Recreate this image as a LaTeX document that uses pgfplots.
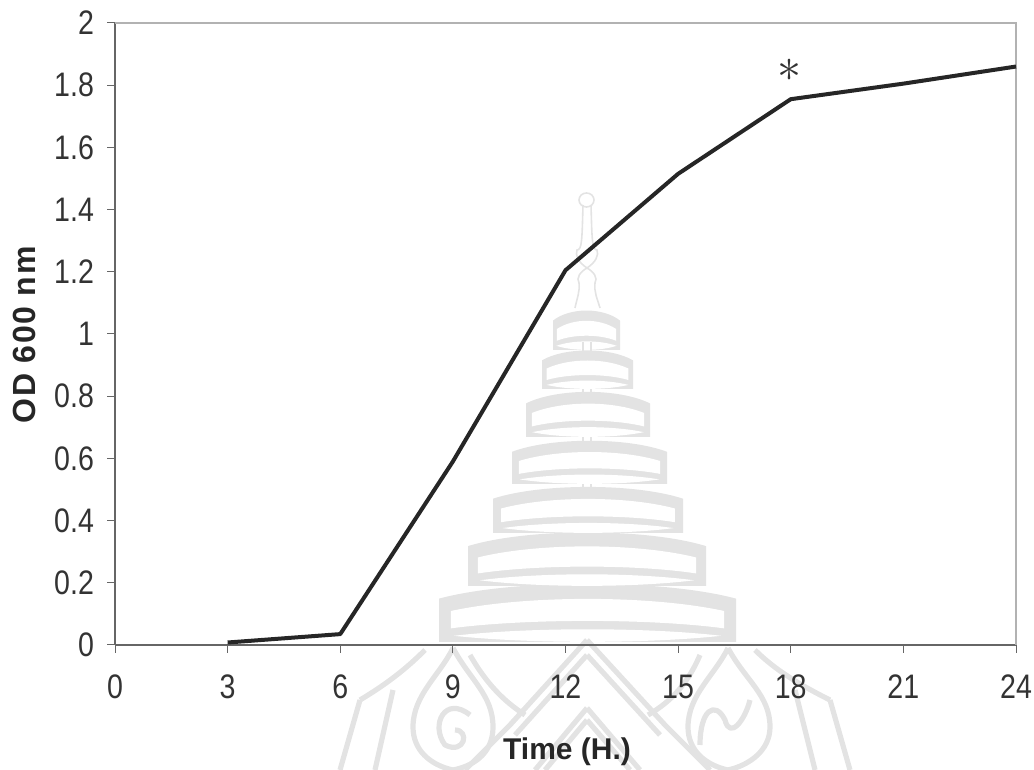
\documentclass[border=0pt]{standalone}
\usepackage{pgfplots}
\pgfplotsset{compat=1.18}
\usepackage{fontspec}
\setmainfont{Liberation Sans}
\newfontfamily\tickfont[FakeStretch=0.84]{Liberation Sans}
\newfontfamily\labfont[LetterSpace=5]{Liberation Sans}
\definecolor{wm}{gray}{0.89}
% watermark tier: left, right, top, bottom in reference pixels
\newcommand{\tier}[4]{%
  \pgfmathsetmacro{\h}{#4-#3}\pgfmathsetmacro{\c}{(#1+#2)/2}%
  \pgfmathsetmacro{\ts}{#3+0.30*\h}\pgfmathsetmacro{\w}{#2-#1}%
  \pgfmathsetmacro{\il}{#1+0.035*\w+1.5}\pgfmathsetmacro{\ir}{#2-0.035*\w-1.5}%
  \pgfmathsetmacro{\it}{#3+0.55*\h}\pgfmathsetmacro{\itt}{#3+0.22*\h}%
  \pgfmathsetmacro{\ib}{#3+0.78*\h}\pgfmathsetmacro{\ibb}{#3+0.62*\h}%
  \pgfmathsetmacro{\lb}{#3+0.84*\h}\pgfmathsetmacro{\lc}{#3+0.70*\h}%
  \fill[wm] (#1,#4) -- (#1,\ts) .. controls (#1+0.25*\w,#3-0.02*\h) and (#2-0.25*\w,#3-0.02*\h) .. (#2,\ts) -- (#2,#4) -- cycle;
  \fill[white] (\il,\it-0.05*\h) .. controls (\il+0.25*\w,\itt+0.02*\h) and (\ir-0.25*\w,\itt+0.02*\h) .. (\ir,\it-0.05*\h) -- (\ir,\ib) .. controls (\ir-0.25*\w,\ibb) and (\il+0.25*\w,\ibb) .. (\il,\ib) -- cycle;
  \fill[white] (#1+0.05*\w,\lb+0.06*\h) .. controls (\c-0.2*\w,\lc+0.06*\h) and (\c+0.2*\w,\lc+0.06*\h) .. (#2-0.05*\w,\lb+0.06*\h) .. controls (\c+0.2*\w,#4+0.03*\h) and (\c-0.2*\w,#4+0.03*\h) .. (#1+0.05*\w,\lb+0.06*\h) -- cycle;
}
\begin{document}
\begin{tikzpicture}[x=1pt,y=1pt]
\path[use as bounding box] (0,0) rectangle (517,385);
\begin{scope}[shift={(0,385)},x=0.5pt,y=-0.5pt]
  \tier{439}{736}{580}{642}
  \tier{468}{706}{529}{586}
  \tier{493}{683}{484}{533}
  \tier{512}{667}{438}{484}
  \tier{526}{650}{389}{437}
  \tier{542}{633}{348}{389}
  \tier{553}{620}{308}{350}
  % central pole
  \foreach \a/\b in {342/352,389/394,437/442,484/489,533/538,586/592}{
    \fill[wm] (582,\a) rectangle (584,\b); \fill[wm] (590,\a) rectangle (592,\b);
  }
  % spire
  \draw[wm,line width=0.8pt] (575,308) .. controls (577,298) and (580,292) .. (579,283) .. controls (576,278) and (580,272) .. (587,268) .. controls (594,272) and (598,278) .. (595,283) .. controls (594,292) and (597,298) .. (600,308);
  \draw[wm,line width=0.8pt] (587,268) .. controls (578,262) and (575,255) .. (577,250) .. controls (582,250) and (582,240) .. (583,205) (587,268) .. controls (596,262) and (599,255) .. (597,250) .. controls (592,250) and (592,240) .. (591,205);
  \draw[wm,line width=0.8pt] (586.5,200) ellipse [x radius=7.5,y radius=7];
  % emblem below the axis
  \begin{scope}[wm,line width=2.6pt,line join=round]
    \draw (453,648) .. controls (440,675) and (413,695) .. (413,727) .. controls (413,750) and (430,765) .. (453,770);
    \draw (453,648) .. controls (470,680) and (493,695) .. (493,727) .. controls (493,750) and (478,765) .. (453,770);
    \draw (728,648) .. controls (715,675) and (688,695) .. (688,727) .. controls (688,750) and (705,765) .. (728,770);
    \draw (728,648) .. controls (745,680) and (770,695) .. (770,727) .. controls (770,750) and (750,765) .. (728,770);
    \draw (587,640) -- (510,725) -- (465,770) (587,640) -- (665,725) -- (710,770);
    \draw (587,655) -- (515,735) (587,655) -- (660,735);
    \draw (587,708) -- (535,770) (587,708) -- (640,770);
    \draw (587,720) -- (545,770) (587,720) -- (630,770);
    \draw (470,655) .. controls (490,690) and (510,705) .. (525,715);
    \draw (700,655) .. controls (685,690) and (665,705) .. (648,715);
    \draw (425,650) .. controls (405,670) and (385,685) .. (360,700);
    \draw (755,650) .. controls (775,670) and (800,685) .. (830,700);
    \draw (360,700) -- (340,770) (830,700) -- (850,770);
    \draw (393,690) -- (375,770) (795,690) -- (815,770);
    \draw (470,715) .. controls (445,695) and (430,725) .. (445,745) .. controls (465,755) and (470,730) .. (455,730);
    \draw (700,745) .. controls (700,710) and (715,700) .. (725,720) .. controls (730,740) and (745,720) .. (750,700);
  \end{scope}
\end{scope}
\begin{axis}[
  at={(57.5pt,62.5pt)},anchor=south west,
  scale only axis,width=450.5pt,height=311pt,
  xmin=0,xmax=24,ymin=0,ymax=2,
  axis x line*=bottom,axis y line*=left,
  xtick={0,3,...,24},
  ytick={0,0.2,...,2},
  yticklabels={0,0.2,0.4,0.6,0.8,1,1.2,1.4,1.6,1.8,2},
  xticklabels={0,3,6,9,12,15,18,21,24},
  tick align=outside,
  major tick length=4pt,
  tick style={color=black!60,line width=0.5pt},
  axis line style={-,color=black!60,line width=0.6pt},
  ticklabel style={font=\tickfont\fontsize{17}{19}\selectfont,color=black!80},
  xticklabel style={yshift=-7.5pt},
  yticklabel style={xshift=-3pt},
  xlabel={\textbf{Time (H.)}},
  ylabel={\textbf{\labfont OD 600 nm}},
  xlabel style={font=\fontsize{15}{17}\selectfont,color=black!85,at={(axis description cs:0.5017,0)},anchor=north,yshift=-43pt},
  ylabel style={font=\fontsize{16}{18}\selectfont,color=black!85,at={(axis description cs:0,0.5)},anchor=south,yshift=36pt},
  clip=false,
]
\draw[color=black!30,line width=0.6pt] (rel axis cs:0,1) -- (rel axis cs:1,1) -- (rel axis cs:1,0);
\addplot[color=black!85,line width=2pt,line join=round] coordinates {
 (3,0.008) (6,0.035) (9,0.59) (12,1.205) (15,1.515) (18,1.755) (21,1.805) (24,1.86)};
\node[color=black!80,inner sep=0pt] at (axis cs:17.96,1.849) {\scalebox{2.4}{$\ast$}};
\end{axis}
\end{tikzpicture}
\end{document}
